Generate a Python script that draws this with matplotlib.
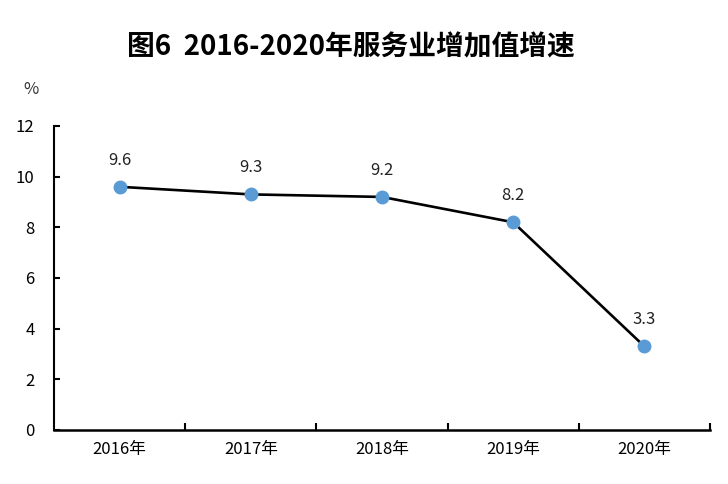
import matplotlib
matplotlib.use("Agg")
import matplotlib.pyplot as plt

plt.rcParams['font.family'] = ['Noto Sans CJK SC', 'DejaVu Sans']

years = ["2016年", "2017年", "2018年", "2019年", "2020年"]
growth = [9.6, 9.3, 9.2, 8.2, 3.3]
yticks = [0, 2, 4, 6, 8, 10, 12]
title = "图6  2016-2020年服务业增加值增速"

fig = plt.figure(figsize=(7.28, 4.84), dpi=100)
ax = fig.add_axes([54/728, 54/484, 656/728, 304/484])

x = list(range(len(years)))
ax.plot(x, growth, color="black", lw=1.9, zorder=2)
ax.plot(x, growth, ls="none", marker="o", ms=9, mfc="#5B9BD5", mec="#5B9BD5", zorder=3)
for xi, v in zip(x, growth):
    ax.annotate(f"{v:.1f}", (xi, v), xytext=(0, 13), textcoords="offset points",
                ha="center", va="bottom", fontsize=12, color="#222222")

ax.set_xlim(-0.5, len(years) - 0.5)
ax.set_ylim(0, 12)
ax.set_yticks(yticks)
ax.set_yticklabels([str(t) for t in yticks], fontsize=12)
ax.set_xticks(x)
ax.set_xticklabels(years, fontsize=12)
ax.tick_params(axis="x", length=0, pad=8)
ax.set_xticks([i + 0.5 for i in range(len(years))], minor=True)
ax.tick_params(axis="x", which="minor", direction="in", length=5, width=1.5)
ax.tick_params(axis="y", direction="in", length=4, width=1.5, pad=14)
for s in ["top", "right"]:
    ax.spines[s].set_visible(False)
ax.spines["left"].set_linewidth(1.5)
ax.spines["bottom"].set_linewidth(1.8)

fig.text(31/728, 1 - 90/484, "%", fontsize=12, ha="center", va="center", color="#333333")
fig.text(351/728, 1 - 47/484, title, fontsize=20, fontweight="bold", ha="center", va="center")

fig.savefig("out.png", dpi=100)
